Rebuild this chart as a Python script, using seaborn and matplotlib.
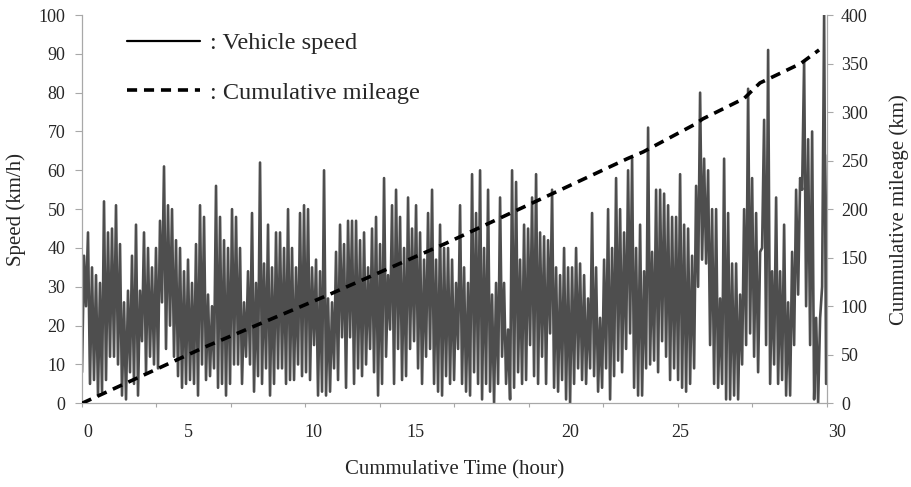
import numpy as np
import pandas as pd
import matplotlib
matplotlib.use("Agg")
import matplotlib.pyplot as plt
import matplotlib.transforms as mtransforms
from matplotlib.lines import Line2D
import seaborn as sns

# ---------------- data ----------------
# upper / lower swing of the speed trace, one pair per sample period (km/h)
speed_peaks_kmh = [
    38, 44, 35, 33, 31, 52, 44, 45, 51, 41, 26, 29, 38, 46, 29, 44, 40, 35, 40, 47, 61, 51, 50, 42, 40, 34, 37, 31, 41, 51, 48,
    28, 25, 56, 48, 42, 40, 50, 48, 40, 26, 34, 49, 31, 62, 36, 46, 35, 44, 44, 40, 50, 40, 35, 49, 51, 50, 35, 37, 34, 60, 27,
    26, 39, 46, 41, 47, 47, 47, 42, 44, 35, 45, 48, 41, 58, 33, 51, 55, 48, 40, 53, 45, 51, 44, 37, 49, 55, 37, 46, 40, 40, 37,
    31, 51, 35, 31, 59, 49, 60, 40, 55, 28, 31, 53, 31, 19, 60, 57, 37, 46, 45, 53, 59, 44, 43, 42, 55, 35, 33, 40, 35, 35, 40,
    36, 33, 27, 49, 35, 22, 37, 50, 40, 58, 50, 44, 60, 63, 40, 46, 34, 71, 39, 55, 55, 54, 51, 48, 48, 59, 46, 45, 38, 56, 80, 63,
    60, 50, 50, 27, 63, 49, 36, 36, 28, 50, 81, 58, 49, 39, 73, 91, 34, 53, 34, 46, 26, 39, 55, 58, 88, 68, 70, 22, 22, 100, 64,
]
speed_troughs_kmh = [
    8, 25, 5, 6, 2, 3, 6, 12, 12, 10, 2, 1, 8, 5, 2, 16, 8, 12, 10, 9, 26, 14, 20, 12, 7, 4, 5, 6, 5, 2, 10,
    6, 7, 9, 4, 5, 2, 5, 10, 10, 5, 12, 10, 3, 7, 5, 9, 2, 5, 9, 9, 5, 6, 6, 10, 7, 8, 6, 15, 2, 3, 2,
    3, 9, 6, 17, 4, 17, 5, 9, 7, 10, 14, 8, 2, 5, 12, 19, 5, 14, 6, 7, 14, 16, 9, 5, 12, 14, 5, 3, 2, 7, 5,
    6, 14, 5, 3, 2, 8, 5, 1, 5, 3, 0, 5, 12, 5, 1, 4, 8, 5, 6, 15, 7, 5, 12, 5, 18, 4, 3, 6, 1, 0, 5,
    9, 6, 5, 9, 7, 3, 4, 9, 1, 7, 11, 8, 14, 18, 4, 2, 2, 9, 10, 11, 8, 16, 12, 6, 9, 6, 4, 3, 5, 9, 30, 37,
    36, 15, 5, 4, 5, 1, 1, 2, 1, 10, 15, 18, 12, 8, 40, 15, 5, 10, 5, 6, 2, 2, 15, 28, 55, 25, 15, 1, 0, 30, 5,
]
sample_period_h = 0.1611  # hours between successive samples

mileage_hours = [0, 4.95, 9.77, 14.67, 19.95, 21.96, 22.6, 24.65, 25.0, 26.66, 27.3, 28.94, 29.68]
mileage_km = [0, 58, 110, 165, 228, 252, 259, 287, 293, 314, 330, 350, 364]

x_tick_texts = ["0", "5", "10", "15", "20", "25", "30"]
x_tick_text_hours = [0.24, 4.27, 9.30, 13.41, 19.65, 24.08, 30.40]
x_tick_marks = list(range(0, 31, 3))
speed_ticks = list(range(0, 101, 10))
mileage_ticks = list(range(0, 401, 50))

legend_labels = [": Vehicle speed", ": Cumulative mileage"]

# ---------------- build tables ----------------
n = len(speed_peaks_kmh)
base_t = np.arange(n) * sample_period_h
speed_hours = np.empty(2 * n)
speed_vals = np.empty(2 * n)
speed_hours[0::2] = base_t
speed_hours[1::2] = base_t + sample_period_h / 2
speed_vals[0::2] = speed_troughs_kmh
speed_vals[1::2] = speed_peaks_kmh
df_speed = pd.DataFrame({"hour": speed_hours, "speed": speed_vals})
df_mile = pd.DataFrame({"hour": mileage_hours, "km": mileage_km})

# ---------------- style ----------------
sns.set_style("white")
plt.rcParams["font.family"] = ["Liberation Serif", "DejaVu Serif"]
plt.rcParams["axes.linewidth"] = 0.9

W, H = 912, 487
fig = plt.figure(figsize=(W / 100, H / 100), dpi=100)
ax = fig.add_axes([82 / W, (H - 403.3) / H, (827 - 82) / W, (403.3 - 15) / H])

trace_color = "#4e4e4e"
axis_color = "#a8a8a8"

sns.lineplot(data=df_speed, x="hour", y="speed", ax=ax, color=trace_color,
             linewidth=1.9, estimator=None, sort=False)
ax.set_xlim(0, 30)
ax.set_ylim(0, 100)

ax2 = ax.twinx()
sns.lineplot(data=df_mile, x="hour", y="km", ax=ax2, color="black",
             linewidth=2.6, estimator=None, sort=False)
ax2.lines[0].set_dashes((2.8, 1.9))
ax2.set_ylim(0, 400)
ax2.set_xlim(0, 30)

# spines
for a in (ax, ax2):
    a.spines["top"].set_visible(False)
    for s in ("left", "right", "bottom"):
        a.spines[s].set_color(axis_color)
ax.spines["right"].set_visible(False)
ax2.spines["left"].set_visible(False)
ax2.spines["bottom"].set_visible(False)

tick_fs = 13
ax.set_yticks(speed_ticks)
ax.set_yticklabels([str(v) for v in speed_ticks])
ax.tick_params(axis="y", direction="out", length=5, width=0.8, color=axis_color,
               pad=7, labelsize=tick_fs, left=True)
ax2.set_yticks(mileage_ticks)
ax2.set_yticklabels([str(v) for v in mileage_ticks])
ax2.tick_params(axis="y", direction="out", length=4, width=0.8, color=axis_color,
                pad=6, labelsize=tick_fs, right=True)

ax.set_xticks(x_tick_marks)
ax.set_xticklabels([""] * len(x_tick_marks))
ax.tick_params(axis="x", direction="out", length=3, width=0.8, color=axis_color, bottom=True)

blend = mtransforms.blended_transform_factory(ax.transData, ax.transAxes)
for txt, hx in zip(x_tick_texts, x_tick_text_hours):
    ax.text(hx, -0.074, txt, transform=blend, ha="center", va="center",
            fontsize=tick_fs, clip_on=False)

label_fs = 15
ax.set_xlabel("Cummulative Time (hour)", fontsize=label_fs)
ax.xaxis.set_label_coords(0.5, -0.146)
ax.set_ylabel("Speed (km/h)", fontsize=label_fs)
ax.yaxis.set_label_coords(-0.075, 0.5)
ax2.set_ylabel("Cummulative mileage (km)", fontsize=label_fs, rotation=90)
ax2.yaxis.set_label_coords(1.083, 0.5)

handles = [Line2D([], [], color="black", linewidth=1.6),
           Line2D([], [], color="black", linewidth=2.6, dashes=(2.8, 1.9))]
ax.legend(handles=handles, labels=legend_labels, loc="upper left",
          bbox_to_anchor=(127 / W, (H - 32) / H), bbox_transform=fig.transFigure,
          frameon=False, fontsize=17.5, handlelength=3.0, handletextpad=0.4,
          labelspacing=1.15, borderpad=0, borderaxespad=0)

fig.savefig("out.png", dpi=100)
